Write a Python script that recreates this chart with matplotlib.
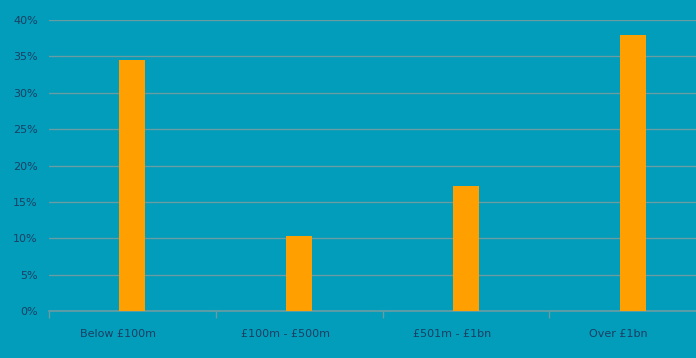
import numpy as np
import matplotlib
matplotlib.use("Agg")
import matplotlib.pyplot as plt
import matplotlib.transforms as mtransforms
from matplotlib.ticker import FuncFormatter

# data
categories = ["Below £100m", "£100m - £500m", "£501m - £1bn", "Over £1bn"]
shares = [34.5, 10.3, 17.2, 38.0]
y_ticks = [0, 5, 10, 15, 20, 25, 30, 35, 40]

bg = "#019DBA"
bar_col = "#FFA000"
grid_col = "#6A9CA4"
text_col = "#1B3F63"

plt.rcParams["font.family"] = ["DejaVu Sans"]

fig = plt.figure(figsize=(6.96, 3.58), dpi=100, facecolor=bg)
# axes runs past the right edge like the original
ax = fig.add_axes([49 / 696, 47 / 358, 667 / 696, 291 / 358], facecolor=bg)

x = np.arange(len(categories))
ax.bar(x, shares, width=0.156, color=bar_col, zorder=3)

ax.set_xlim(-0.5, len(categories) - 0.5)
ax.set_ylim(0, 40)
ax.set_yticks(y_ticks)
ax.yaxis.set_major_formatter(FuncFormatter(lambda v, p: f"{v:.0f}%"))
ax.yaxis.grid(True, color=grid_col, linewidth=1.0, zorder=0)

ax.set_xticks(x)
ax.set_xticklabels(categories)
ax.set_xticks(np.arange(len(categories)) - 0.5, minor=True)
ax.tick_params(axis="x", which="major", length=0, pad=13, labelsize=8, labelcolor=text_col)
ax.tick_params(axis="x", which="minor", length=5, width=1, color=grid_col)
ax.tick_params(axis="y", length=0, pad=8, labelsize=8, labelcolor=text_col)

# labels in the original sit a little left of the category centre
shift = mtransforms.ScaledTranslation(-14 / 100, 0, fig.dpi_scale_trans)
for lbl in ax.get_xticklabels():
    lbl.set_transform(lbl.get_transform() + shift)

for s in ["top", "right", "left"]:
    ax.spines[s].set_visible(False)
ax.spines["bottom"].set_color(grid_col)
ax.spines["bottom"].set_linewidth(1.2)

fig.savefig("out.png", dpi=100, facecolor=bg)
